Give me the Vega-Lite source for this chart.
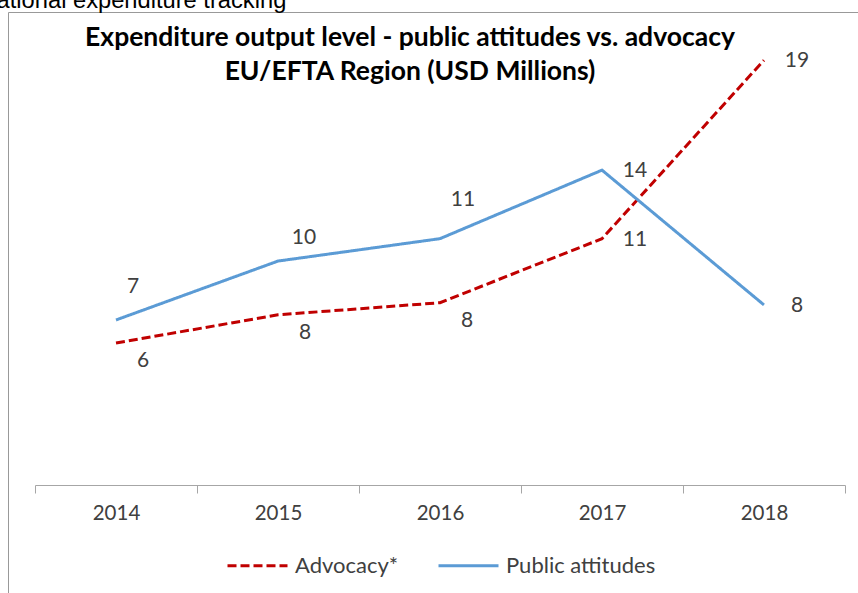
{
  "$schema": "https://vega.github.io/schema/vega-lite/v6.json",
  "width": 850,
  "height": 581,
  "autosize": {"type": "none"},
  "padding": {"left": 8, "top": 12, "right": 0, "bottom": 0},
  "background": "white",
  "title": {
    "text": ["Expenditure output level - public attitudes vs. advocacy", "EU/EFTA Region  (USD Millions)"],
    "font": "Lato",
    "fontSize": 26.5,
    "fontWeight": "bold",
    "color": "#000000",
    "anchor": "middle",
    "frame": "group",
    "lineHeight": 34,
    "offset": -97,
    "dx": -23
  },
  "data": {
    "values": [
      {"year": "2014", "series": "Advocacy*", "value": 6.34},
      {"year": "2015", "series": "Advocacy*", "value": 7.6},
      {"year": "2016", "series": "Advocacy*", "value": 8.14},
      {"year": "2017", "series": "Advocacy*", "value": 11.0},
      {"year": "2018", "series": "Advocacy*", "value": 18.97},
      {"year": "2014", "series": "Public attitudes", "value": 7.37},
      {"year": "2015", "series": "Public attitudes", "value": 10.0},
      {"year": "2016", "series": "Public attitudes", "value": 11.0},
      {"year": "2017", "series": "Public attitudes", "value": 14.06},
      {"year": "2018", "series": "Public attitudes", "value": 8.04}
    ]
  },
  "encoding": {
    "x": {
      "field": "year",
      "type": "ordinal",
      "scale": {"type": "band", "range": [27, 837], "paddingInner": 0, "paddingOuter": 0},
      "axis": {
        "title": null,
        "orient": "bottom",
        "offset": -108,
        "tickBand": "extent",
        "labelAngle": 0,
        "labelFont": "Lato",
        "labelFontSize": 20.5,
        "labelColor": "#404040",
        "labelPadding": 10,
        "tickSize": 8,
        "tickColor": "#a6a6a6",
        "domainColor": "#a6a6a6",
        "grid": false
      }
    },
    "y": {
      "field": "value",
      "type": "quantitative",
      "scale": {"domain": [-4.82, 21.12], "nice": false, "zero": false},
      "axis": {
        "title": "National expenditure tracking",
        "labels": false,
        "ticks": false,
        "domain": false,
        "grid": false,
        "titleAngle": 0,
        "titleAlign": "left",
        "titleBaseline": "alphabetic",
        "titleFont": "Liberation Sans",
        "titleFontSize": 23.7,
        "titleFontWeight": "normal",
        "titleColor": "#000000",
        "titleX": -29,
        "titleY": -5
      }
    }
  },
  "layer": [
    {
      "mark": {"type": "line", "interpolate": "linear", "strokeWidth": 3},
      "encoding": {
        "color": {"field": "series", "type": "nominal", "title": null,
          "scale": {"domain": ["Advocacy*", "Public attitudes"], "range": ["#C00000", "#5B9BD5"]}},
        "strokeDash": {"field": "series", "type": "nominal", "title": null,
          "scale": {"domain": ["Advocacy*", "Public attitudes"], "range": [[9, 4], [1, 0]]}}
      }
    },
    {
      "transform": [{"filter": "datum.year === '2017' || datum.year === '2018'"}],
      "mark": {"type": "text", "font": "Lato", "fontSize": 21, "color": "#404040", "dx": 33, "dy": 1, "baseline": "middle"},
      "encoding": {"text": {"field": "value", "type": "quantitative", "format": ".0f"}}
    },
    {
      "transform": [{"filter": "datum.series === 'Public attitudes' && datum.year === '2014'"}],
      "mark": {"type": "text", "font": "Lato", "fontSize": 21, "color": "#404040", "dx": 17, "dy": -33, "baseline": "middle"},
      "encoding": {"text": {"field": "value", "type": "quantitative", "format": ".0f"}}
    },
    {
      "transform": [{"filter": "datum.series === 'Public attitudes' && datum.year === '2015'"}],
      "mark": {"type": "text", "font": "Lato", "fontSize": 21, "color": "#404040", "dx": 26, "dy": -23, "baseline": "middle"},
      "encoding": {"text": {"field": "value", "type": "quantitative", "format": ".0f"}}
    },
    {
      "transform": [{"filter": "datum.series === 'Public attitudes' && datum.year === '2016'"}],
      "mark": {"type": "text", "font": "Lato", "fontSize": 21, "color": "#404040", "dx": 23, "dy": -39, "baseline": "middle"},
      "encoding": {"text": {"field": "value", "type": "quantitative", "format": ".0f"}}
    },
    {
      "transform": [{"filter": "datum.series === 'Advocacy*' && datum.year < '2017'"}],
      "mark": {"type": "text", "font": "Lato", "fontSize": 21, "color": "#404040", "dx": 27, "dy": 18, "baseline": "middle"},
      "encoding": {"text": {"field": "value", "type": "quantitative", "format": ".0f"}}
    }
  ],
  "config": {
    "view": {"stroke": "#999999", "strokeWidth": 1},
    "legend": {
      "orient": "none",
      "direction": "horizontal",
      "legendX": 218,
      "legendY": 522,
      "padding": 0,
      "symbolType": "stroke",
      "symbolSize": 3600,
      "symbolStrokeWidth": 3,
      "labelFont": "Lato",
      "labelFontSize": 22,
      "labelColor": "#404040",
      "labelOffset": 6,
      "columnPadding": 33
    }
  }
}
